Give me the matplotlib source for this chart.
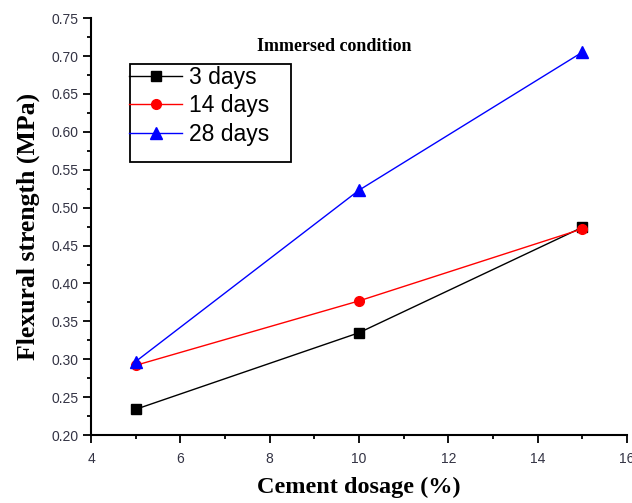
import matplotlib.pyplot as plt
from matplotlib.ticker import MultipleLocator
from matplotlib.patches import Rectangle

# dados
dosagem = [5, 10, 15]
dias_3 = [0.234, 0.335, 0.474]
dias_14 = [0.292, 0.377, 0.472]
dias_28 = [0.297, 0.523, 0.705]

fig = plt.figure(figsize=(6.32, 5.03), dpi=100)
ax = fig.add_axes([0.144, 0.135, 0.848, 0.829])

ax.plot(dosagem, dias_3, color='black', marker='s', markersize=7, lw=1, label='3 days')
ax.plot(dosagem, dias_14, color='red', marker='o', markersize=7, lw=1, label='14 days')
ax.plot(dosagem, dias_28, color='blue', marker='^', markersize=8, lw=1, label='28 days')

ax.set_xlim(4, 16)
ax.set_ylim(0.20, 0.75)
ax.xaxis.set_major_locator(MultipleLocator(2))
ax.xaxis.set_minor_locator(MultipleLocator(1))
ax.yaxis.set_major_locator(MultipleLocator(0.05))
ax.yaxis.set_minor_locator(MultipleLocator(0.025))
ax.yaxis.set_major_formatter(plt.FormatStrFormatter('%.2f'))

for s in ['top', 'right']:
    ax.spines[s].set_visible(False)
for s in ['left', 'bottom']:
    ax.spines[s].set_linewidth(1.5)

ax.tick_params(which='major', direction='out', length=6, width=1.3, labelsize=10,
               labelcolor='#333344', labelfontfamily='Liberation Sans')
ax.tick_params(which='minor', direction='out', length=3, width=1.3)
ax.tick_params(axis='x', pad=6)
ax.tick_params(axis='y', pad=3)

ax.set_xlabel('Cement dosage (%)', fontsize=17.5, fontweight='bold', family='Liberation Serif', labelpad=8)
ax.set_ylabel('Flexural strength (MPa)', fontsize=18.5, fontweight='bold', family='Liberation Serif', labelpad=8)

ax.text(0.309, 0.92, 'Immersed condition', transform=ax.transAxes, fontsize=13,
        fontweight='bold', family='Liberation Serif')

# legenda sem moldura + caixa desenhada à parte
leg = ax.legend(loc='upper left', bbox_to_anchor=(0.063, 0.897), frameon=False,
                prop={'family': 'Liberation Sans', 'size': 16.5},
                handlelength=2.3, borderpad=0.2, labelspacing=0.24, handletextpad=0.3,
                borderaxespad=0)
ax.add_patch(Rectangle((0.0728, 0.655), 0.301, 0.235, transform=ax.transAxes,
                       fill=False, edgecolor='black', lw=1.3, clip_on=False))

plt.savefig('out.png', dpi=100)
